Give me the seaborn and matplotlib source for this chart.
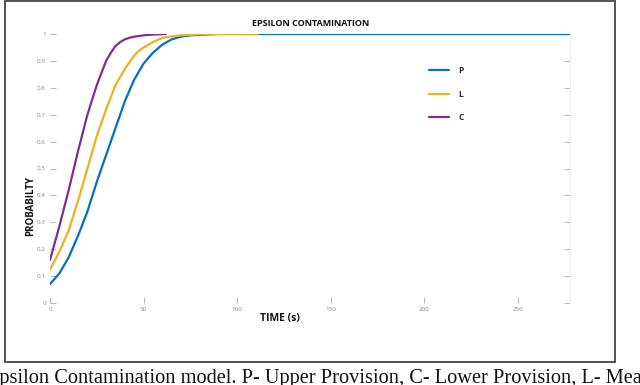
import numpy as np
import pandas as pd
import matplotlib
matplotlib.use("Agg")
import matplotlib.pyplot as plt
import seaborn as sns
from matplotlib.patches import Rectangle

# ---- data ----
time_P = [0, 5, 10, 15, 20, 25, 30, 35, 40, 45, 50, 52.5, 55, 57.5, 60, 62.5, 65, 67.5, 70, 75, 80, 90, 100, 278]
prob_P = [0.07, 0.11, 0.17, 0.25, 0.34, 0.45, 0.55, 0.65, 0.75, 0.83, 0.89, 0.91, 0.93, 0.945, 0.96, 0.97, 0.98, 0.985, 0.99, 0.995, 0.997, 1.0, 1.0, 1.0]

time_L = [0, 5, 10, 15, 20, 25, 30, 35, 40, 42.5, 45, 47.5, 50, 52.5, 55, 57.5, 60, 65, 70, 75, 80, 90, 111]
prob_L = [0.125, 0.19, 0.27, 0.38, 0.50, 0.62, 0.72, 0.81, 0.87, 0.895, 0.92, 0.937, 0.95, 0.96, 0.97, 0.978, 0.985, 0.991, 0.995, 0.997, 0.999, 1.0, 1.0]

time_C = [0, 5, 10, 15, 20, 25, 30, 32.5, 35, 37.5, 40, 42.5, 45, 50, 55, 62]
prob_C = [0.16, 0.285, 0.42, 0.565, 0.70, 0.81, 0.90, 0.93, 0.955, 0.97, 0.98, 0.986, 0.99, 0.995, 0.998, 1.0]

series_names = ["P", "L", "C"]
series_colors = ["#0072BD", "#EDB120", "#7E2F8E"]

x_ticks = [0, 50, 100, 150, 200, 250]
y_ticks = [0, 0.1, 0.2, 0.3, 0.4, 0.5, 0.6, 0.7, 0.8, 0.9, 1]
y_tick_labels = ["0", "0.1", "0.2", "0.3", "0.4", "0.5", "0.6", "0.7", "0.8", "0.9", "1"]

title = "EPSILON CONTAMINATION"
xlabel = "TIME (s)"
ylabel = "PROBABILTY"
caption = "Epsilon Contamination model. P- Upper Provision, C- Lower Provision, L- Mean Provision"

df = pd.concat([
    pd.DataFrame({"time": time_P, "prob": prob_P, "series": "P"}),
    pd.DataFrame({"time": time_L, "prob": prob_L, "series": "L"}),
    pd.DataFrame({"time": time_C, "prob": prob_C, "series": "C"}),
], ignore_index=True)

sns.set_theme(style="white")
plt.rcParams["font.family"] = ["Open Sans", "DejaVu Sans"]

W, H = 640, 385
fig = plt.figure(figsize=(W / 100, H / 100), dpi=100)
ax = fig.add_axes([50 / W, (H - 303) / H, 520 / W, 269 / H])

sns.lineplot(data=df, x="time", y="prob", hue="series", hue_order=series_names,
             palette=dict(zip(series_names, series_colors)), linewidth=1.6,
             sort=False, estimator=None, ax=ax, legend=False)

ax.set_xlim(0, 278)
ax.set_ylim(0, 1)
ax.set_xticks(x_ticks)
ax.set_xticklabels([str(t) for t in x_ticks])
ax.set_yticks(y_ticks)
ax.set_yticklabels(y_tick_labels)
ax.tick_params(axis="both", direction="in", length=4, width=0.8, color="#bbbbbb",
               labelsize=4.5, labelcolor="#888888", pad=3)
ax.tick_params(axis="y", right=True, left=True)
ax.tick_params(axis="x", bottom=True)
for s in ["left", "top", "bottom"]:
    ax.spines[s].set_visible(False)
ax.spines["right"].set_color("#eeeeee")
ax.spines["right"].set_linewidth(0.8)
ax.set_xlabel("")
ax.set_ylabel("")
ax.grid(False)

# titles / labels placed in figure pixels
fig.text(311 / W, 1 - 23 / H, title, ha="center", va="center", fontsize=6.5,
         fontweight="bold", color="#111111")
fig.text(280 / W, 1 - 319 / H, xlabel, ha="center", va="center", fontsize=7.5,
         fontweight="bold", color="#111111")
fig.text(31 / W, 1 - 206 / H, ylabel, ha="center", va="center", rotation=90,
         fontsize=7, fontweight="bold", color="#111111")

# legend
handles = [plt.Line2D([], [], color=c, lw=1.6) for c in series_colors]
leg = ax.legend(handles, series_names, loc="upper left",
                bbox_to_anchor=(429 / W, 1 - 66 / H), bbox_transform=fig.transFigure,
                frameon=False, fontsize=6, labelspacing=1.75, handlelength=2.4,
                handletextpad=1.1, borderpad=0, borderaxespad=0)
for t in leg.get_texts():
    t.set_fontweight("bold")

# outer frame
fig.patches.append(Rectangle((5 / W, (H - 362) / H), 610 / W, 361.5 / H,
                             transform=fig.transFigure, fill=False,
                             edgecolor="#444444", linewidth=1.3))

# caption (cut by the figure edges like the reference)
fig.text(-13 / W, 2 / H, caption, ha="left", va="baseline",
         fontsize=14.7, family=["Liberation Serif", "DejaVu Serif"], color="#111111")

fig.savefig("out.png", dpi=100, facecolor="white")
